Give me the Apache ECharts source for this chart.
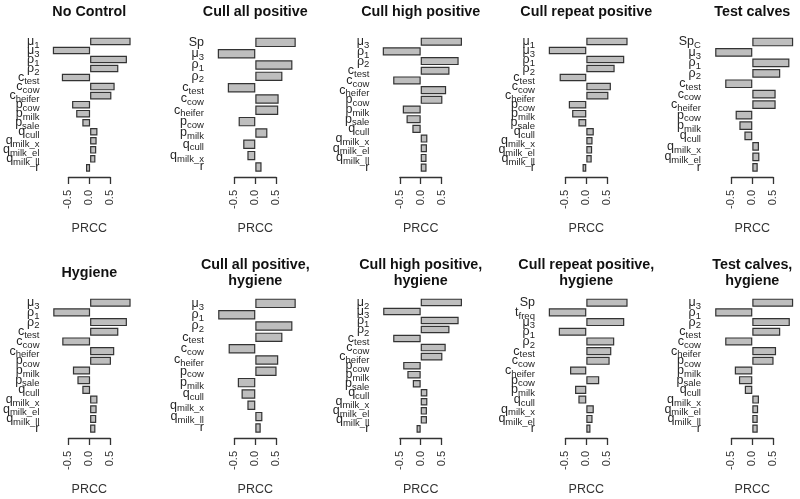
<!DOCTYPE html>
<html>
<head>
<meta charset="utf-8">
<script src="https://cdn.jsdelivr.net/npm/echarts@6/dist/echarts.min.js"></script>
<style>
  html, body { margin: 0; padding: 0; background: #ffffff; }
  #chart { width: 800px; height: 499px; }
</style>
</head>
<body>
<div id="chart"></div>
<script>
// ---- data ----
const panelTitles = [
  ['No Control'], ['Cull all positive'], ['Cull high positive'], ['Cull repeat positive'], ['Test calves'],
  ['Hygiene'], ['Cull all positive,', 'hygiene'], ['Cull high positive,', 'hygiene'],
  ['Cull repeat positive,', 'hygiene'], ['Test calves,', 'hygiene']
];

const labelsNoControl = ['μ_1','μ_3','ρ_1','ρ_2','c_test','c_cow','c_heifer','p_cow','p_milk','p_sale','q_cull','q_milk_x','q_milk_el','q_milk_ll','r'];
const valuesNoControl = [0.99,-0.91,0.90,0.69,-0.69,0.60,0.52,-0.44,-0.34,-0.19,0.18,0.16,0.15,0.13,-0.10];

const labelsCullAll = ['Sp','μ_3','ρ_1','ρ_2','c_test','c_cow','c_heifer','p_cow','p_milk','q_cull','q_milk_x','r'];
const valuesCullAll = [0.97,-0.90,0.89,0.65,-0.66,0.56,0.55,-0.40,0.29,-0.29,-0.19,0.15];

const labelsCullHigh = ['μ_3','ρ_1','ρ_2','c_test','c_cow','c_heifer','p_cow','p_milk','p_sale','q_cull','q_milk_x','q_milk_el','q_milk_ll','r'];
const valuesCullHigh = [0.99,-0.91,0.91,0.69,-0.66,0.61,0.52,-0.43,-0.34,-0.20,0.16,0.15,0.14,0.14];

const labelsCullRepeat = ['μ_1','μ_3','ρ_1','ρ_2','c_test','c_cow','c_heifer','p_cow','p_milk','p_sale','q_cull','q_milk_x','q_milk_el','q_milk_ll','r'];
const valuesCullRepeat = [0.99,-0.90,0.91,0.68,-0.64,0.59,0.53,-0.42,-0.34,-0.19,0.18,0.15,0.14,0.13,-0.09];

const labelsTestCalves = ['Sp_C','μ_3','ρ_1','ρ_2','c_test','c_cow','c_heifer','p_cow','p_milk','q_cull','q_milk_x','q_milk_el','r'];
const valuesTestCalves = [0.98,-0.89,0.89,0.67,-0.65,0.56,0.56,-0.40,-0.31,-0.19,0.16,0.17,0.13];

const labelsHygiene = ['μ_3','ρ_1','ρ_2','c_test','c_cow','c_heifer','p_cow','p_milk','p_sale','q_cull','q_milk_x','q_milk_el','q_milk_ll','r'];
const valuesHygiene = [0.99,-0.90,0.90,0.69,-0.68,0.59,0.51,-0.42,-0.31,-0.19,0.18,0.16,0.15,0.13];

const labelsCullAllHyg = ['μ_3','ρ_1','ρ_2','c_test','c_cow','c_heifer','p_cow','p_milk','q_cull','q_milk_x','q_milk_ll','r'];
const valuesCullAllHyg = [0.97,-0.89,0.89,0.65,-0.64,0.55,0.51,-0.42,-0.33,-0.19,0.17,0.13];

const labelsCullHighHyg = ['μ_2','μ_3','ρ_1','ρ_2','c_test','c_cow','c_heifer','p_cow','p_milk','p_sale','q_cull','q_milk_x','q_milk_el','q_milk_ll','r'];
const valuesCullHighHyg = [0.99,-0.90,0.91,0.69,-0.66,0.60,0.52,-0.42,-0.32,-0.19,0.16,0.16,0.15,0.15,-0.10];

const labelsCullRepeatHyg = ['Sp','t_freq','μ_3','ρ_1','ρ_2','c_test','c_cow','c_heifer','p_cow','p_milk','q_cull','q_milk_x','q_milk_el','r'];
const valuesCullRepeatHyg = [0.99,-0.90,0.91,-0.66,0.67,0.60,0.56,-0.39,0.31,-0.27,-0.19,0.18,0.15,0.10];

const labelsTestCalvesHyg = ['μ_3','ρ_1','ρ_2','c_test','c_cow','c_heifer','p_cow','p_milk','p_sale','q_cull','q_milk_x','q_milk_el','q_milk_ll','r'];
const valuesTestCalvesHyg = [0.98,-0.89,0.90,0.67,-0.65,0.57,0.51,-0.42,-0.32,-0.18,0.16,0.14,0.13,0.13];

const xTickMin = -0.5, xTickMax = 0.5, xTickStep = 0.5;
const xAxisTitle = 'PRCC';

const panelLabels = [labelsNoControl, labelsCullAll, labelsCullHigh, labelsCullRepeat, labelsTestCalves,
  labelsHygiene, labelsCullAllHyg, labelsCullHighHyg, labelsCullRepeatHyg, labelsTestCalvesHyg];
const panelValues = [valuesNoControl, valuesCullAll, valuesCullHigh, valuesCullRepeat, valuesTestCalves,
  valuesHygiene, valuesCullAllHyg, valuesCullHighHyg, valuesCullRepeatHyg, valuesTestCalvesHyg];

// ---- layout ----
const FONT = "'Liberation Sans', Arial, sans-serif";
const zeroX = [89.3, 255.3, 420.7, 586.3, 752.3];
const S = 41.7;            // px per PRCC unit
const ROW_OFF = 261;
const XR = 1.04;           // half-range of bar grid

const grids = [], xAxes = [], yAxes = [], series = [], graphics = [];

function fmtLabel(v) {
  const k = v.indexOf('_');
  if (k < 0) return '{m|' + v + '}';
  return '{m|' + v.slice(0, k) + '}{s|' + v.slice(k + 1) + '}';
}

for (let i = 0; i < 10; i++) {
  const r = Math.floor(i / 5), c = i % 5;
  const x0 = zeroX[c];
  const off = r * ROW_OFF;
  const plotTop = 32.3 + off, plotBottom = 177 + off;
  const n = panelLabels[i].length;
  const R = 1.2 * n - 0.2;
  const u = (plotBottom - plotTop) / (1.08 * R);
  const d = (0.04 * R - 0.1) * u;

  // bar grid
  const gA = grids.length;
  grids.push({ left: x0 - XR * S, width: 2 * XR * S, top: plotTop + d, height: plotBottom - plotTop - 2 * d });
  xAxes.push({ gridIndex: gA, type: 'value', min: -XR, max: XR, show: false });
  yAxes.push({
    gridIndex: gA, type: 'category', data: panelLabels[i], inverse: true,
    axisLine: { show: false }, axisTick: { show: false }, splitLine: { show: false },
    axisLabel: {
      interval: 0, margin: 8, formatter: fmtLabel,
      rich: {
        m: { fontFamily: FONT, fontSize: 12.5, color: '#262626', lineHeight: 13 },
        s: { fontFamily: FONT, fontSize: 9.5, color: '#262626', lineHeight: 10, padding: [7, 0, 0, 0] }
      }
    }
  });
  series.push({
    type: 'bar', xAxisIndex: xAxes.length - 1, yAxisIndex: yAxes.length - 1,
    data: panelValues[i], barCategoryGap: '16.67%',
    itemStyle: { color: '#bebebe', borderColor: '#333333', borderWidth: 1.2 },
    silent: true, animation: false
  });

  // axis grid (-0.5..0.5)
  const gB = grids.length;
  grids.push({ left: x0 + xTickMin * S, width: (xTickMax - xTickMin) * S, top: plotTop, height: plotBottom - plotTop });
  xAxes.push({
    gridIndex: gB, type: 'value', min: xTickMin, max: xTickMax, interval: xTickStep,
    axisLine: { show: true, lineStyle: { color: '#333333', width: 1.3 } },
    axisTick: { show: true, length: 7, lineStyle: { color: '#333333', width: 1.3 } },
    splitLine: { show: false },
    axisLabel: { rotate: 90, margin: 13, fontFamily: FONT, fontSize: 11, color: '#333333',
      formatter: v => v.toFixed(1) },
    name: xAxisTitle, nameLocation: 'middle', nameGap: 45,
    nameTextStyle: { fontFamily: FONT, fontSize: 12.5, color: '#333333' }
  });
  yAxes.push({ gridIndex: gB, type: 'value', show: false });

  // title
  const lines = panelTitles[i];
  const centerY = r === 0 ? 12 : 273;
  const lh = 16.7;
  lines.forEach((t, j) => {
    graphics.push({
      type: 'text', x: x0, y: centerY + (j - (lines.length - 1) / 2) * lh, silent: true,
      style: { text: t, fontFamily: FONT, fontSize: 14.3, fontWeight: 'bold', fill: '#111111',
        textAlign: 'center', textVerticalAlign: 'middle' }
    });
  });
}

const chart = echarts.init(document.getElementById('chart'), null, { renderer: 'canvas' });
chart.setOption({
  animation: false,
  backgroundColor: '#ffffff',
  grid: grids, xAxis: xAxes, yAxis: yAxes, series: series,
  graphic: graphics
});
</script>
</body>
</html>
